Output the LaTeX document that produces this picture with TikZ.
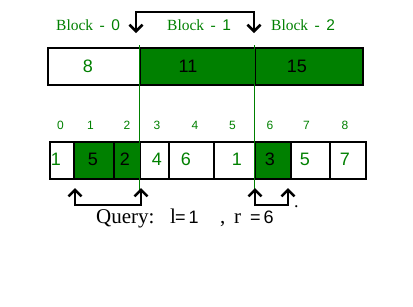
\documentclass[tikz,border=0pt]{standalone}
\usepackage{fontspec}
\setmainfont{Liberation Serif}
\newfontfamily\sansf{Liberation Sans}
\usetikzlibrary{arrows.meta}
\definecolor{gg}{RGB}{0,128,0}
\begin{document}
\begin{tikzpicture}[x=1pt,y=-1pt,
  cellbox/.style={draw=black,line width=2.3pt,minimum height=37pt,inner sep=0pt,anchor=north west},
  numtxt/.style={font=\sansf\fontsize{18}{18}\selectfont,anchor=base,inner sep=0pt},
  idxtxt/.style={font=\sansf\fontsize{12}{12}\selectfont,text=gg,anchor=base,inner sep=0pt},
  blocktxt/.style={font=\fontsize{15.5}{15.5}\selectfont,text=gg,anchor=base west,inner sep=0pt},
  bracket/.style={line width=2.5pt,-{Straight Barb[length=6.5pt,width=13pt,line width=2.5pt]}},
  divline/.style={gg,line width=1.8pt}]
\useasboundingbox (0,0) rectangle (413,306);
% top blocks
\node[cellbox,minimum width=92pt,fill=white] (b0) at (47,47) {};
\node[cellbox,minimum width=115pt,fill=gg] (b1) at (139,47) {};
\node[cellbox,minimum width=108pt,fill=gg] (b2) at (254,47) {};
\node[numtxt,text=gg] (t0) at (88,72) {8};
\node[numtxt] (t1) at (188,72) {11};
\node[numtxt] (t2) at (297,72) {15};
% block labels
\node[blocktxt] (l0) at (56,30) {Block \,- \,{\sansf 0}};
\node[blocktxt] (l1) at (167,30) {Block \,- \,{\sansf 1}};
\node[blocktxt] (l2) at (271,30) {Block \,- \,{\sansf 2}};
% bottom array
\node[cellbox,minimum width=24pt] (c0) at (49,141) {};
\node[cellbox,minimum width=40pt,fill=gg] (c1) at (73,141) {};
\node[cellbox,minimum width=26pt,fill=gg] (c2) at (113,141) {};
\node[cellbox,minimum width=29pt] (c3) at (139,141) {};
\node[cellbox,minimum width=45pt] (c4) at (168,141) {};
\node[cellbox,minimum width=41pt] (c5) at (213,141) {};
\node[cellbox,minimum width=36pt,fill=gg] (c6) at (254,141) {};
\node[cellbox,minimum width=39pt] (c7) at (290,141) {};
\node[cellbox,minimum width=36pt] (c8) at (329,141) {};
\node[numtxt,text=gg] (v0) at (56,165) {1};
\node[numtxt] (v1) at (93,165) {5};
\node[numtxt] (v2) at (125,165) {2};
\node[numtxt,text=gg] (v3) at (157,165) {4};
\node[numtxt,text=gg] (v4) at (186,165) {6};
\node[numtxt,text=gg] (v5) at (237,165) {1};
\node[numtxt] (v6) at (270,165) {3};
\node[numtxt,text=gg] (v7) at (305,165) {5};
\node[numtxt,text=gg] (v8) at (345,165) {7};
% indices
\node[idxtxt] (i0) at (60.5,129.5) {0};
\node[idxtxt] (i1) at (90.5,129.5) {1};
\node[idxtxt] (i2) at (127,129.5) {2};
\node[idxtxt] (i3) at (157,129.5) {3};
\node[idxtxt] (i4) at (195,129.5) {4};
\node[idxtxt] (i5) at (232.5,129.5) {5};
\node[idxtxt] (i6) at (270,129.5) {6};
\node[idxtxt] (i7) at (306.5,129.5) {7};
\node[idxtxt] (i8) at (345,129.5) {8};
% green divider lines
\coordinate (ga) at (139.5,45);
\coordinate (gb) at (139.5,190);
\coordinate (gc) at (254.5,45);
\coordinate (gd) at (254.5,190);
\draw[divline] (ga) -- (gb);
\draw[divline] (gc) -- (gd);
% top bracket
\coordinate (ta) at (136,33);
\coordinate (tb) at (254,33);
\coordinate (tl) at (136,12);
\coordinate (tr) at (254,12);
\draw[bracket] (tr) -- (tl) -- (ta);
\draw[bracket] (tl) -- (tr) -- (tb);
% bottom brackets
\coordinate (la) at (75,188);
\coordinate (lb) at (141,188);
\coordinate (lc) at (75,205);
\coordinate (ld) at (141,205);
\draw[bracket] (ld) -- (lc) -- (la);
\draw[bracket] (lc) -- (ld) -- (lb);
\coordinate (ra) at (255,188);
\coordinate (rb) at (288,188);
\coordinate (rc) at (255,205);
\coordinate (rd) at (288,205);
\draw[bracket] (rd) -- (rc) -- (ra);
\draw[bracket] (rc) -- (rd) -- (rb);
\node[font=\fontsize{18}{18}\selectfont,anchor=base west,inner sep=0pt] (dot) at (294,207) {.};
% query
\node[font=\fontsize{21}{21}\selectfont,anchor=base west,inner sep=0pt] (q) at (96,223) {Query:};
\node[font=\fontsize{21}{21}\selectfont,anchor=base west,inner sep=0pt] (ql) at (170,223) {l};
\node[font=\sansf\fontsize{18}{18}\selectfont,anchor=base west,inner sep=0pt] (q1) at (175,223) {=\,1};
\node[font=\fontsize{21}{21}\selectfont,anchor=base west,inner sep=0pt] (qc) at (220,223) {,};
\node[font=\fontsize{21}{21}\selectfont,anchor=base west,inner sep=0pt] (qr) at (234,223) {r};
\node[font=\sansf\fontsize{18}{18}\selectfont,anchor=base west,inner sep=0pt] (q6) at (250,223) {=\,6};
\end{tikzpicture}
\end{document}
